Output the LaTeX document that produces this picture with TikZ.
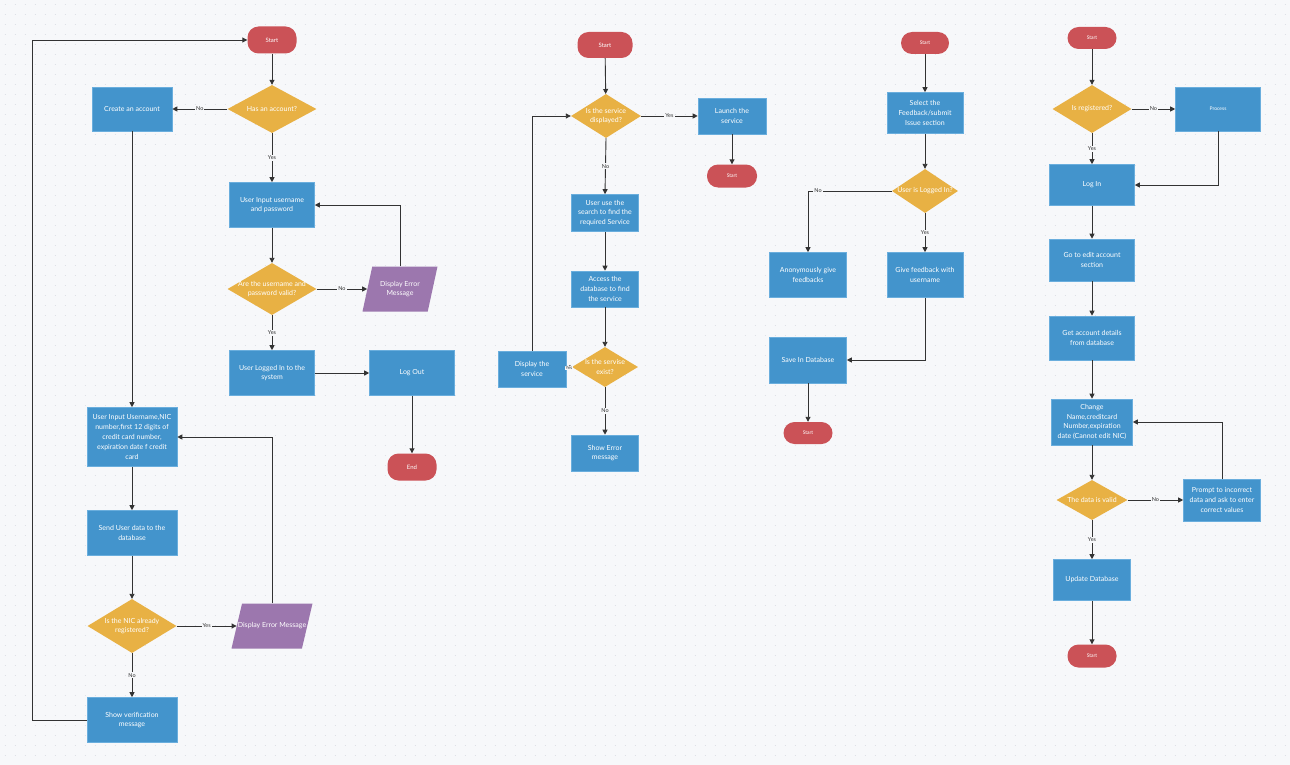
\documentclass[tikz,border=0pt]{standalone}
\usepackage{fontspec}
\setmainfont{Lato}
\usetikzlibrary{shapes.geometric,arrows.meta}
\definecolor{bgc}{HTML}{F7F8FA}
\definecolor{dotc}{HTML}{DDE0E6}
\definecolor{bluec}{HTML}{4394CC}
\definecolor{blueb}{HTML}{6AAEDD}
\definecolor{orangec}{HTML}{E8B144}
\definecolor{redc}{HTML}{CB5257}
\definecolor{purpc}{HTML}{9C77AE}
\definecolor{linec}{HTML}{333333}
\tikzset{
  proc/.style={rectangle, fill=bluec, draw=blueb, line width=0.6, text=white, align=center, font=\fontsize{7}{9.8}\selectfont, inner sep=0},
  term/.style={rectangle, rounded corners=11, fill=redc, text=white, font=\fontsize{6}{7}\selectfont, inner sep=0},
  dec/.style={diamond, fill=orangec, inner sep=0},
  io/.style={trapezium, trapezium left angle=80, trapezium right angle=100, trapezium stretches=true, fill=purpc, inner sep=2},
  intext/.style={text=white, align=center, font=\fontsize{7}{9.8}\selectfont, inner sep=0},
  conn/.style={draw=linec, line width=0.9, -{Triangle[width=5,length=5]}},
  lbl/.style={fill=bgc, text=linec, font=\fontsize{5.5}{6}\selectfont, inner sep=1},
}
\begin{document}
\begin{tikzpicture}[x=1pt,y=-1pt]
\fill[bgc] (0,0) rectangle (1290,765);
\useasboundingbox (0,0) rectangle (1290,765);
\foreach \yy in {5,15,...,765}
  \draw[dotc, line width=1, dash pattern=on 1 off 9] (4.5,\yy) -- (1290,\yy);

% ---------- chart 1 ----------
\node[term, minimum width=49, minimum height=27] (s1) at (272,40) {Start};
\node[dec, minimum width=89, minimum height=48, label={[intext]center:Has an account?}] (d1) at (272,109) {};
\node[proc, minimum width=80, minimum height=44] (create) at (132,109) {Create an account};
\node[proc, minimum width=85, minimum height=45] (uin) at (272,205) {User Input username\\and password};
\node[dec, minimum width=89, minimum height=52, label={[intext]center:Are the username and\\password valid?}] (d2) at (272,289) {};
\node[io, minimum width=75, minimum height=45, label={[intext]center:Display Error\\Message}] (err1) at (400,289) {};
\node[proc, minimum width=85, minimum height=45] (logged) at (272,373) {User Logged In to the\\system};
\node[proc, minimum width=85, minimum height=45] (logout) at (412,373) {Log Out};
\node[term, minimum width=49, minimum height=27] (end1) at (412,467) {End};
\node[proc, minimum width=90, minimum height=59] (reg) at (132,437) {User Input Username,NIC\\number,first 12 digits of\\credit card number,\\expiration date f credit\\card};
\node[proc, minimum width=90, minimum height=45] (send) at (132,533) {Send User data to the\\database};
\node[dec, minimum width=89, minimum height=54, label={[intext]center:Is the NIC already\\registered?}] (d3) at (132,626) {};
\node[io, minimum width=81, minimum height=45, label={[intext]center:Display Error Message}] (err2) at (272,626) {};
\node[proc, minimum width=90, minimum height=45] (verif) at (132,720) {Show verification\\message};
\coordinate (lp) at (32,40);

\draw[conn] (s1) -- (d1);
\draw[conn] (d1.west) -- node[lbl]{No} (create.east);
\draw[conn] (d1.south) -- node[lbl]{Yes} (uin.north);
\draw[conn] (uin) -- (d2.north);
\draw[conn] (d2.east) -- node[lbl]{No} (err1.west);
\draw[conn] (err1.north) |- (uin.east);
\draw[conn] (d2.south) -- node[lbl]{Yes} (logged.north);
\draw[conn] (logged) -- (logout);
\draw[conn] (logout) -- (end1);
\draw[conn] (create) -- (reg);
\draw[conn] (reg) -- (send);
\draw[conn] (send) -- (d3.north);
\draw[conn] (d3.east) -- node[lbl]{Yes} (err2.west);
\draw[conn] (err2.north) |- (reg.east);
\draw[conn] (d3.south) -- node[lbl]{No} (verif.north);
\draw[conn] (verif.west) -| (lp) -- (s1.west);

% ---------- chart 2 ----------
\node[term, minimum width=55, minimum height=26] (s2) at (605,45) {Start};
\node[dec, minimum width=70, minimum height=44, label={[intext]center:Is the service\\displayed?}] (d4) at (606,116) {};
\node[proc, minimum width=68, minimum height=36] (launch) at (732,116) {Launch the\\service};
\node[term, minimum width=50, minimum height=23, font=\fontsize{5}{6}\selectfont] (stop2) at (732,176) {Start};
\node[proc, minimum width=67, minimum height=37] (search) at (605,213) {User use the\\search to find the\\required Service};
\node[proc, minimum width=67, minimum height=36] (access) at (605,289) {Access the\\database to find\\the service};
\node[dec, minimum width=66, minimum height=40, label={[intext]center:Is the servise\\exist?}] (d5) at (605,367) {};
\node[proc, minimum width=68, minimum height=36] (disp) at (532,369) {Display the\\service};
\node[proc, minimum width=67, minimum height=36] (showerr) at (605,453) {Show Error\\message};

\draw[conn] (s2) -- (d4);
\draw[conn] (d4.east) -- node[lbl]{Yes} (launch.west);
\draw[conn] (launch) -- (stop2);
\draw[conn] (d4.south) -- node[lbl]{No} (search.north);
\draw[conn] (search) -- (access);
\draw[conn] (access) -- (d5.north);
\draw[conn] (d5.west) -- node[lbl, font=\fontsize{4.5}{5}\selectfont, inner sep=0.3]{Yes} (disp.east);
\draw[conn] (disp.north) |- (d4.west);
\draw[conn] (d5.south) -- node[lbl]{No} (showerr.north);

% ---------- chart 3 ----------
\node[term, minimum width=48, minimum height=22, font=\fontsize{5}{6}\selectfont] (s3) at (925,43) {Start};
\node[proc, minimum width=76, minimum height=41] (sel) at (925,113) {Select the\\Feedback/submit\\Issue section};
\node[dec, minimum width=66, minimum height=44, label={[intext]center:User is Logged In?}] (d6) at (925,191) {};
\node[proc, minimum width=77, minimum height=45] (anon) at (808,275) {Anonymously give\\feedbacks};
\node[proc, minimum width=76, minimum height=45] (give) at (925,275) {Give feedback with\\username};
\node[proc, minimum width=77, minimum height=46] (save) at (808,360) {Save In Database};
\node[term, minimum width=49, minimum height=22, font=\fontsize{5}{6}\selectfont] (end3) at (808,433) {Start};

\draw[conn] (s3) -- (sel);
\draw[conn] (sel) -- (d6.north);
\draw[conn] (d6.west) -| node[lbl, pos=0.44]{No} (anon.north);
\draw[conn] (d6.south) -- node[lbl]{Yes} (give.north);
\draw[conn] (give.south) |- (save.east);
\draw[conn] (save) -- (end3);

% ---------- chart 4 ----------
\node[term, minimum width=49, minimum height=22, font=\fontsize{5}{6}\selectfont] (s4) at (1092,38) {Start};
\node[dec, minimum width=79, minimum height=48, label={[intext]center:Is registered?}] (d7) at (1092,109) {};
\node[proc, minimum width=85, minimum height=44, font=\fontsize{5}{6}\selectfont] (proc1) at (1218,109) {Process};
\node[proc, minimum width=85, minimum height=41] (login) at (1092,185) {Log In};
\node[proc, minimum width=85, minimum height=42] (goedit) at (1092,260) {Go to edit account\\section};
\node[proc, minimum width=85, minimum height=44] (getacc) at (1092,338) {Get account details\\from database};
\node[proc, minimum width=81, minimum height=46] (change) at (1092,422) {Change\\Name,creditcard\\Number,expiration\\date (Cannot edit NIC)};
\node[dec, minimum width=71, minimum height=40, label={[intext]center:The data is valid}] (d8) at (1092,500) {};
\node[proc, minimum width=77, minimum height=42] (prompt) at (1222,500) {Prompt to incorrect\\data and ask to enter\\correct values};
\node[proc, minimum width=77, minimum height=41] (update) at (1092,580) {Update Database};
\node[term, minimum width=49, minimum height=23, font=\fontsize{5}{6}\selectfont] (end4) at (1092,656) {Start};

\draw[conn] (s4) -- (d7);
\draw[conn] (d7.east) -- node[lbl]{No} (proc1.west);
\draw[conn] (d7.south) -- node[lbl]{Yes} (login.north);
\draw[conn] (proc1.south) |- (login.east);
\draw[conn] (login) -- (goedit);
\draw[conn] (goedit) -- (getacc);
\draw[conn] (getacc) -- (change);
\draw[conn] (change) -- (d8.north);
\draw[conn] (d8.east) -- node[lbl]{No} (prompt.west);
\draw[conn] (prompt.north) |- (change.east);
\draw[conn] (d8.south) -- node[lbl]{Yes} (update.north);
\draw[conn] (update) -- (end4);
\end{tikzpicture}
\end{document}
